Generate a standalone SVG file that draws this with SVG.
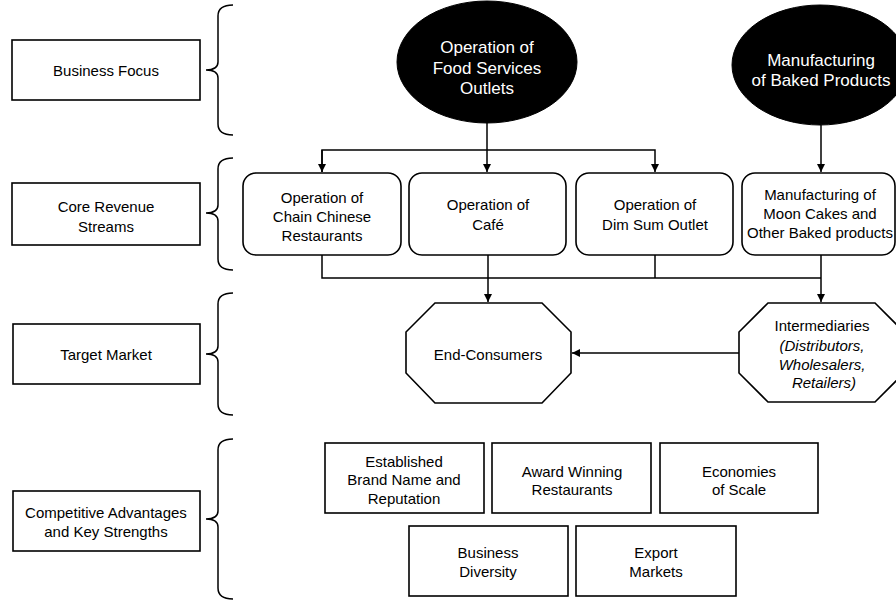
<svg xmlns="http://www.w3.org/2000/svg" width="896" height="600" viewBox="0 0 896 600">
<defs>
<marker id="ah" viewBox="0 0 10 10" refX="10" refY="5" markerWidth="8" markerHeight="8" markerUnits="userSpaceOnUse" orient="auto">
<path d="M0,0 L10,5 L0,10 z" fill="#000"/>
</marker>
<style>
.box{fill:#fff;stroke:#000;stroke-width:1.6}
.ell{fill:#000;stroke:#000}
.t{font-family:"Liberation Sans",Arial,sans-serif;font-size:15px;fill:#000;text-anchor:middle}
.tw{font-family:"Liberation Sans",Arial,sans-serif;font-size:17px;fill:#fff;text-anchor:middle}
.it{font-style:italic}
.br{fill:none;stroke:#000;stroke-width:1.5}
.c{fill:none;stroke:#000;stroke-width:1.5}
</style>
</defs>
<rect width="896" height="600" fill="#fff"/>

<g id="braces">
<path class="br" d="M233,5 Q218,5 218,16 L218,62 Q218,70 206,70 Q218,70 218,78 L218,124 Q218,135 233,135"/>
<path class="br" d="M233,158 Q218,158 218,169 L218,205 Q218,213 206,213 Q218,213 218,221 L218,259 Q218,270 233,270"/>
<path class="br" d="M233,293 Q218,293 218,304 L218,346 Q218,354 206,354 Q218,354 218,362 L218,404 Q218,415 233,415"/>
<path class="br" d="M233,439 Q218,439 218,450 L218,511 Q218,519 206,519 Q218,519 218,527 L218,588 Q218,599 233,599"/>
</g>

<g id="label-business-focus">
<rect class="box" x="12" y="40" width="188" height="60"/>
<text class="t" x="106" y="76">Business Focus</text>
</g>
<g id="label-core-revenue">
<rect class="box" x="12" y="183" width="188" height="62"/>
<text class="t" x="106" y="212">Core  Revenue</text>
<text class="t" x="106" y="232">Streams</text>
</g>
<g id="label-target-market">
<rect class="box" x="13" y="324" width="187" height="60"/>
<text class="t" x="106" y="360">Target Market</text>
</g>
<g id="label-competitive">
<rect class="box" x="13" y="491" width="187" height="60"/>
<text class="t" x="106" y="518">Competitive Advantages</text>
<text class="t" x="106" y="537">and Key Strengths</text>
</g>

<g id="connectors">
<line class="c" x1="487" y1="123" x2="487" y2="172" marker-end="url(#ah)"/>
<polyline class="c" points="322,172 322,150 655,150 655,172" marker-end="url(#ah)"/>
<line class="c" x1="322" y1="150" x2="322" y2="172" marker-end="url(#ah)"/>
<line class="c" x1="821" y1="125" x2="821" y2="172" marker-end="url(#ah)"/>
<polyline class="c" points="322,255 322,278 821,278"/>
<line class="c" x1="655" y1="255" x2="655" y2="278"/>
<line class="c" x1="488" y1="255" x2="488" y2="302" marker-end="url(#ah)"/>
<line class="c" x1="821" y1="255" x2="821" y2="302" marker-end="url(#ah)"/>
<line class="c" x1="739" y1="353" x2="572" y2="353" marker-end="url(#ah)"/>
</g>

<g id="ellipse-food-services">
<ellipse class="ell" cx="487" cy="62" rx="90" ry="61"/>
<text class="tw" x="487" y="53">Operation of</text>
<text class="tw" x="487" y="74">Food Services</text>
<text class="tw" x="487" y="94">Outlets</text>
</g>
<g id="ellipse-baked-products">
<ellipse class="ell" cx="820" cy="65" rx="88" ry="60"/>
<text class="tw" x="821" y="66">Manufacturing</text>
<text class="tw" x="821" y="86">of Baked Products</text>
</g>

<g id="stream-chain-chinese">
<rect class="box" x="243" y="173" width="158" height="82" rx="13"/>
<text class="t" x="322" y="203">Operation of</text>
<text class="t" x="322" y="222">Chain Chinese</text>
<text class="t" x="322" y="241">Restaurants</text>
</g>
<g id="stream-cafe">
<rect class="box" x="409" y="173" width="157" height="82" rx="13"/>
<text class="t" x="488" y="210">Operation of</text>
<text class="t" x="488" y="230">Café</text>
</g>
<g id="stream-dim-sum">
<rect class="box" x="576" y="173" width="157" height="82" rx="13"/>
<text class="t" x="655" y="210">Operation of</text>
<text class="t" x="655" y="230">Dim Sum Outlet</text>
</g>
<g id="stream-moon-cakes">
<rect class="box" x="742" y="173" width="153" height="82" rx="13"/>
<text class="t" x="820" y="200">Manufacturing of</text>
<text class="t" x="820" y="219">Moon Cakes and</text>
<text class="t" x="820" y="238">Other Baked products</text>
</g>

<g id="market-end-consumers">
<polygon class="box" points="435,303 542,303 571,332 571,373 542,403 435,403 406,373 406,332"/>
<text class="t" x="488" y="360">End-Consumers</text>
</g>
<g id="market-intermediaries">
<polygon class="box" points="768,303 875,303 904,332 904,373 875,402 768,402 739,373 739,332"/>
<text class="t" x="822" y="331">Intermediaries</text>
<text class="t it" x="822" y="351">(Distributors,</text>
<text class="t it" x="822" y="370">Wholesalers,</text>
<text class="t it" x="824" y="388">Retailers)</text>
</g>

<g id="adv-brand">
<rect class="box" x="325" y="443" width="159" height="70"/>
<text class="t" x="404" y="467">Established</text>
<text class="t" x="404" y="485">Brand Name and</text>
<text class="t" x="404" y="504">Reputation</text>
</g>
<g id="adv-award">
<rect class="box" x="492" y="443" width="159" height="70"/>
<text class="t" x="572" y="477">Award Winning</text>
<text class="t" x="572" y="495">Restaurants</text>
</g>
<g id="adv-economies">
<rect class="box" x="660" y="443" width="158" height="70"/>
<text class="t" x="739" y="477">Economies</text>
<text class="t" x="739" y="495">of Scale</text>
</g>
<g id="adv-diversity">
<rect class="box" x="409" y="526" width="159" height="70"/>
<text class="t" x="488" y="558">Business</text>
<text class="t" x="488" y="577">Diversity</text>
</g>
<g id="adv-export">
<rect class="box" x="576" y="526" width="160" height="70"/>
<text class="t" x="656" y="558">Export</text>
<text class="t" x="656" y="577">Markets</text>
</g>
</svg>
